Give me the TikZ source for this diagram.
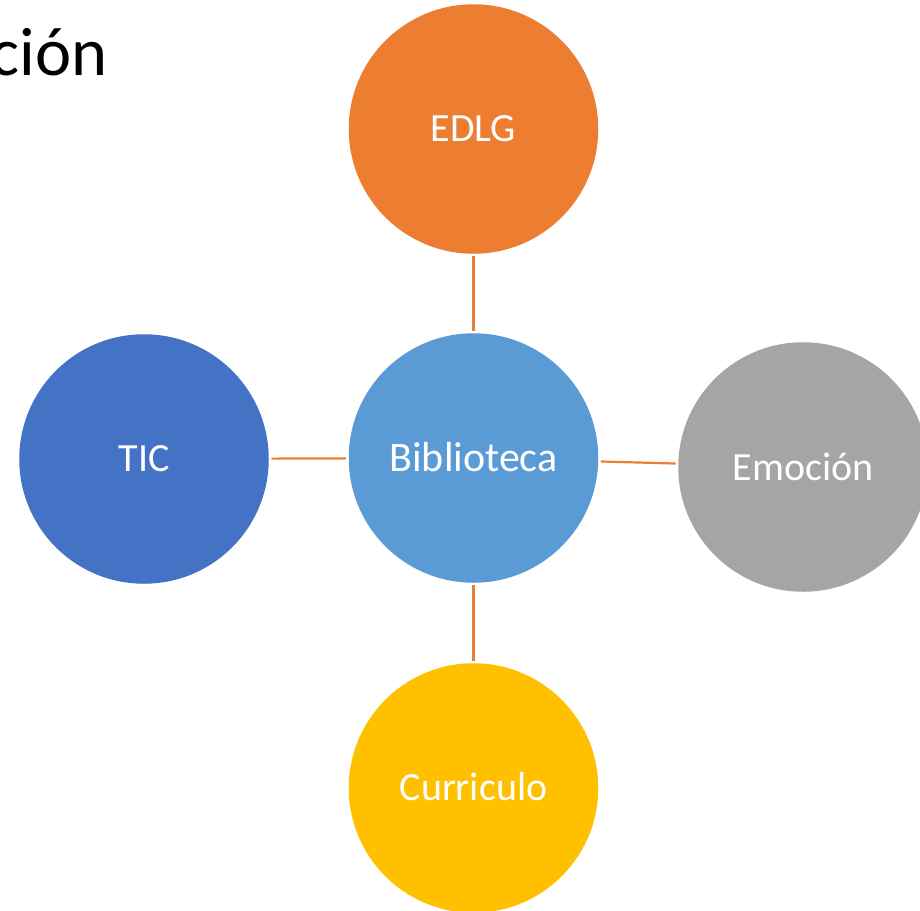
\documentclass[tikz,border=0pt]{standalone}
\usepackage{fontspec}
\setmainfont{Carlito}
\definecolor{cOrange}{HTML}{ED7D31}
\definecolor{cBlue}{HTML}{5B9BD5}
\definecolor{cDark}{HTML}{4472C4}
\definecolor{cGray}{HTML}{A5A5A5}
\definecolor{cGold}{HTML}{FFC000}
\tikzset{x=1pt,y=-1pt,
 hub/.style={circle,minimum size=249.5pt,inner sep=0pt,text=white,text height=25pt,text depth=0pt,font=\fontsize{40}{44}\selectfont},
 link/.style={draw=cOrange,line width=2.2pt,shorten >=2.5pt,shorten <=2.5pt}}
\begin{document}
\begin{tikzpicture}
\useasboundingbox[fill=white] (0,0) rectangle (920,910);
\begin{scope}
\clip (0,0) rectangle (920,910);
\node[hub,fill=cOrange] (e) at (473.5,129) {EDLG};
\node[hub,fill=cBlue,font=\fontsize{42}{46}\selectfont,text height=26pt] (b) at (473.5,458) {Biblioteca};
\node[hub,fill=cDark] (t) at (144,459) {TIC};
\node[hub,fill=cGray,text height=27pt] (m) at (803,467) {Emoción};
\node[hub,fill=cGold] (c) at (473.5,788) {Curriculo};
\node[anchor=base east,font=\fontsize{68.5}{72}\selectfont,inner sep=0pt] (title) at (107.5,75) {ción};
\end{scope}
\draw[link] (e) -- (b);
\draw[link] (b) -- (c);
\draw[link] (t) -- (b);
\draw[link] (b) -- (m);
\end{tikzpicture}
\end{document}
